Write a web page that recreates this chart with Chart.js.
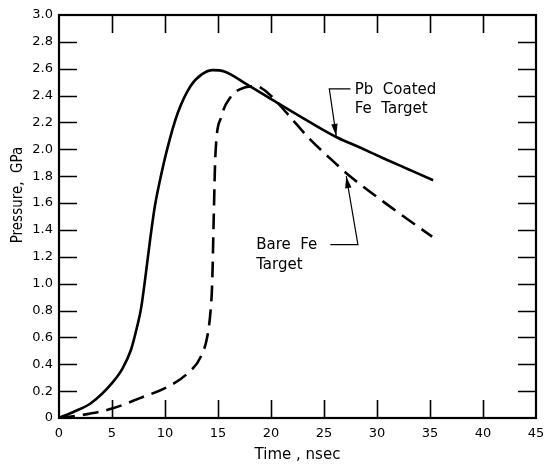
<!DOCTYPE html>
<html>
<head>
<meta charset="utf-8">
<script src="https://cdn.jsdelivr.net/npm/chart.js@4/dist/chart.umd.min.js"></script>
<style>
  html, body { margin: 0; padding: 0; background: #fff; }
  #wrap { width: 544px; height: 464px; }
</style>
</head>
<body>
<div id="wrap"><canvas id="chart" width="544" height="464"></canvas></div>
<script>
// Pb coated Fe target (solid)
const coatedTime     = [0, 1.5, 3, 5, 6.0, 6.8, 7.4, 7.75, 8.2, 8.6, 9.05, 9.5, 10.2, 11.2, 12.4, 13.5, 14.5, 15.6, 17.8, 20.3, 23.5, 26.2, 28.5, 30.7, 33.0, 35.3];
const coatedPressure = [0, 0.05, 0.11, 0.26, 0.37, 0.51, 0.69, 0.82, 1.08, 1.33, 1.58, 1.76, 2.00, 2.27, 2.47, 2.56, 2.59, 2.58, 2.48, 2.36, 2.21, 2.09, 2.01, 1.93, 1.85, 1.77];

// Bare Fe target (dashed)
const bareTime     = [0, 2.0, 5.0, 7.7, 10.2, 12.1, 13.4, 14.0, 14.3, 14.45, 14.6, 14.75, 15.3, 16.2, 17.5, 18.6, 19.7, 21.6, 23.5, 26.3, 27.6, 31.3, 35.2];
const barePressure = [0, 0.02, 0.07, 0.15, 0.23, 0.33, 0.46, 0.61, 0.80, 1.00, 1.50, 1.95, 2.24, 2.39, 2.46, 2.47, 2.42, 2.26, 2.09, 1.88, 1.79, 1.57, 1.35];

const xTicks = [0, 5, 10, 15, 20, 25, 30, 35, 40, 45];
const yTicks = [0, 0.2, 0.4, 0.6, 0.8, 1.0, 1.2, 1.4, 1.6, 1.8, 2.0, 2.2, 2.4, 2.6, 2.8, 3.0];

const xTitle = 'Time , nsec';
const yTitle = 'Pressure,  GPa';

const FONT = "'DejaVu Sans', sans-serif";

function toPoints(xs, ys) {
  return xs.map((x, i) => ({ x: x, y: ys[i] }));
}

// frame with inward tick marks on all four sides
const frameTicks = {
  id: 'frameTicks',
  afterDatasetsDraw(chart) {
    const { ctx, chartArea: a, scales: { x, y } } = chart;
    const len = 18;
    ctx.save();
    ctx.strokeStyle = '#000';
    ctx.lineWidth = 1.6;
    ctx.beginPath();
    xTicks.slice(1, -1).forEach(v => {
      const px = Math.round(x.getPixelForValue(v)) + 0.5;
      ctx.moveTo(px, a.bottom); ctx.lineTo(px, a.bottom - len);
      ctx.moveTo(px, a.top); ctx.lineTo(px, a.top + len);
    });
    yTicks.slice(1, -1).forEach(v => {
      const py = Math.round(y.getPixelForValue(v)) + 0.5;
      ctx.moveTo(a.left, py); ctx.lineTo(a.left + len, py);
      ctx.moveTo(a.right, py); ctx.lineTo(a.right - len, py);
    });
    ctx.stroke();
    ctx.lineWidth = 2.2;
    ctx.strokeRect(a.left, a.top, a.right - a.left, a.bottom - a.top);
    ctx.restore();
  }
};

// curve labels with leader arrows, and the rotated y title
const notes = {
  id: 'notes',
  afterDraw(chart) {
    const { ctx, scales: { x, y } } = chart;
    const P = (vx, vy) => [x.getPixelForValue(vx), y.getPixelForValue(vy)];
    ctx.save();
    ctx.fillStyle = '#000';
    ctx.strokeStyle = '#000';
    ctx.font = '15px ' + FONT;
    ctx.textBaseline = 'middle';
    ctx.textAlign = 'left';

    let p = P(27.9, 2.44); ctx.fillText('Pb  Coated', p[0], p[1]);
    p = P(27.9, 2.30); ctx.fillText('Fe  Target', p[0], p[1]);
    p = P(18.6, 1.29); ctx.fillText('Bare  Fe', p[0], p[1]);
    p = P(18.6, 1.14); ctx.fillText('Target', p[0], p[1]);

    const arrow = pts => {
      const px = pts.map(q => P(q[0], q[1]));
      ctx.lineWidth = 1.2;
      ctx.beginPath();
      ctx.moveTo(px[0][0], px[0][1]);
      px.slice(1).forEach(q => ctx.lineTo(q[0], q[1]));
      ctx.stroke();
      const t = px[px.length - 1], f = px[px.length - 2];
      const ang = Math.atan2(t[1] - f[1], t[0] - f[0]);
      const L = 12, W = 3.2;
      ctx.beginPath();
      ctx.moveTo(t[0], t[1]);
      ctx.lineTo(t[0] - L * Math.cos(ang) + W * Math.sin(ang), t[1] - L * Math.sin(ang) - W * Math.cos(ang));
      ctx.lineTo(t[0] - L * Math.cos(ang) - W * Math.sin(ang), t[1] - L * Math.sin(ang) + W * Math.cos(ang));
      ctx.closePath();
      ctx.fill();
    };
    arrow([[27.5, 2.45], [25.5, 2.45], [26.15, 2.10]]);
    arrow([[25.6, 1.29], [28.2, 1.29], [27.1, 1.80]]);

    // y axis title
    p = P(0, 1.66);
    ctx.font = "15px 'DejaVu Sans Condensed', " + FONT;
    ctx.textAlign = 'center';
    ctx.translate(18, p[1]);
    ctx.rotate(-Math.PI / 2);
    ctx.fillText(yTitle, 0, 0);
    ctx.restore();
  }
};

new Chart(document.getElementById('chart'), {
  type: 'line',
  data: {
    datasets: [
      {
        label: 'Pb Coated Fe Target',
        data: toPoints(coatedTime, coatedPressure),
        borderColor: '#000',
        borderWidth: 2.6,
        pointRadius: 0,
        fill: false,
        cubicInterpolationMode: 'monotone'
      },
      {
        label: 'Bare Fe Target',
        data: toPoints(bareTime, barePressure),
        borderColor: '#000',
        borderWidth: 2.6,
        borderDash: [16, 8],
        pointRadius: 0,
        fill: false,
        cubicInterpolationMode: 'monotone'
      }
    ]
  },
  options: {
    responsive: false,
    animation: false,
    layout: { padding: { top: 15, right: 8, left: 0, bottom: 0 } },
    plugins: { legend: { display: false }, tooltip: { enabled: false } },
    scales: {
      x: {
        type: 'linear',
        min: 0, max: 45,
        afterBuildTicks: s => { s.ticks = xTicks.map(v => ({ value: v })); },
        afterFit: s => { s.height = 46; s.paddingLeft = 0; s.paddingRight = 0; },
        grid: { display: false, drawTicks: false },
        border: { display: false },
        ticks: { color: '#000', padding: 8, maxRotation: 0, font: { family: FONT, size: 13 } },
        title: { display: true, text: xTitle, color: '#000', padding: { top: 4, bottom: 0 }, font: { family: FONT, size: 15 } }
      },
      y: {
        type: 'linear',
        min: 0, max: 3,
        afterBuildTicks: s => { s.ticks = yTicks.map(v => ({ value: v })); },
        afterFit: s => { s.width = 59; s.paddingTop = 0; s.paddingBottom = 0; },
        grid: { display: false, drawTicks: false },
        border: { display: false },
        ticks: {
          color: '#000', padding: 6, font: { family: FONT, size: 13 },
          callback: v => v === 0 ? '0' : v.toFixed(1)
        }
      }
    }
  },
  plugins: [frameTicks, notes]
});
</script>
</body>
</html>
